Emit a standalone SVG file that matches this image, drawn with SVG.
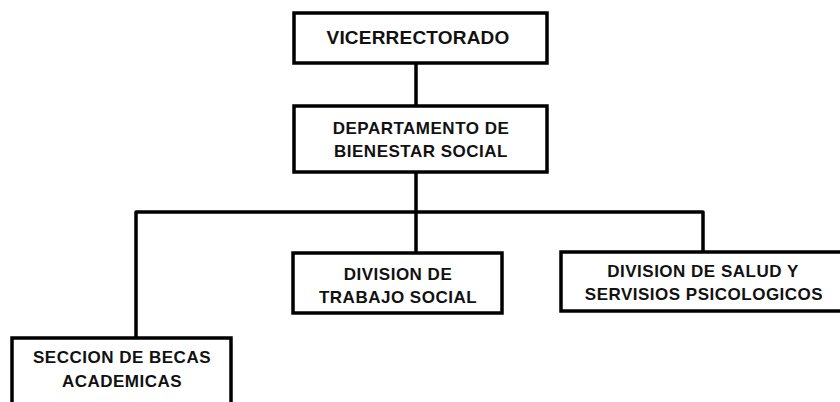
<svg xmlns="http://www.w3.org/2000/svg" width="840" height="402" viewBox="0 0 840 402">
<style>
.box{fill:#fff;stroke:#000;stroke-width:3.5}
.t{font-family:"Liberation Sans",Arial,sans-serif;font-weight:bold;font-size:17px;letter-spacing:0.5px;fill:#111;text-anchor:middle}
.big{font-size:19px;letter-spacing:0.2px}
.c{fill:none;stroke:#000;stroke-width:3.5;stroke-linejoin:round}
</style>
<rect width="840" height="402" fill="#fff"/>
<g id="connectors">
<path class="c" d="M416 63 V106"/>
<path class="c" d="M416 172 V253"/>
<path class="c" d="M136 338 V212 H703 V252"/>
</g>
<g id="vicerrectorado">
<rect class="box" x="294" y="13" width="253" height="50"/>
<text class="t big" x="418" y="44">VICERRECTORADO</text>
</g>
<g id="departamento">
<rect class="box" x="294" y="106" width="253" height="66"/>
<text class="t" x="421" y="134">DEPARTAMENTO DE</text>
<text class="t" x="421" y="157">BIENESTAR SOCIAL</text>
</g>
<g id="trabajo">
<rect class="box" x="293" y="253" width="209" height="60"/>
<text class="t" x="398" y="280">DIVISION DE</text>
<text class="t" x="398" y="303">TRABAJO SOCIAL</text>
</g>
<g id="salud">
<rect class="box" x="561" y="252" width="300" height="59"/>
<text class="t" x="703" y="277">DIVISION DE SALUD Y</text>
<text class="t" x="704" y="300">SERVISIOS PSICOLOGICOS</text>
</g>
<g id="becas">
<rect class="box" x="12" y="338" width="219" height="90"/>
<text class="t" x="122" y="363">SECCION DE BECAS</text>
<text class="t" x="122" y="387">ACADEMICAS</text>
</g>
</svg>
